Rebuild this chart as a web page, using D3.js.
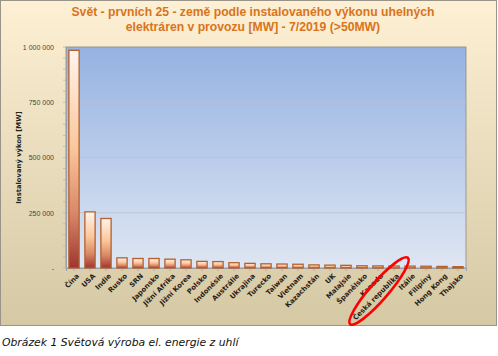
<!DOCTYPE html>
<html><head><meta charset="utf-8">
<script src="https://cdn.jsdelivr.net/npm/d3@7"></script>
<style>
html,body{margin:0;padding:0;background:#fff;}
svg{display:block;}
</style></head>
<body>
<script>
const categories = ["Čína","USA","Indie","Rusko","SRN","Japonsko","Jižní Afrika","Jižní Korea","Polsko","Indonésie","Austrálie","Ukrajina","Turecko","Taiwan","Vietnam","Kazachstán","UK","Malajsie","Španělsko","Kanada","Česká republika","Itálie","Filipíny","Hong Kong","Thajsko"];
const values = [985000,254000,224000,46000,43000,43000,40000,37000,30000,29000,24000,21000,19000,18000,17000,14000,13000,12000,10000,9500,9000,8500,8000,7000,6000];
const yTicks = [0,250000,500000,750000,1000000];
const yTickLabels = ["-","250 000","500 000","750 000","1 000 000"];
const titleLines = ["Svět - prvních 25 - země podle instalovaného výkonu uhelných","elektráren v provozu [MW] - 7/2019 (>50MW)"];
const yLabel = "Instalovaný výkon [MW]";
const caption = "Obrázek 1 Světová výroba el. energie z uhlí";
const highlighted = "Česká republika";

const W=498,H=356;
const svg=d3.select("body").append("svg").attr("width",W).attr("height",H);
const defs=svg.append("defs");
const bg=defs.append("linearGradient").attr("id","bg").attr("x1",0).attr("y1",0).attr("x2",0).attr("y2",1);
bg.append("stop").attr("offset","0%").attr("stop-color","#fdf0d4");
bg.append("stop").attr("offset","100%").attr("stop-color","#d5c8a4");
const pg=defs.append("linearGradient").attr("id","pg").attr("x1",0).attr("y1",0).attr("x2",0).attr("y2",1);
pg.append("stop").attr("offset","0%").attr("stop-color","#95b2e2");
pg.append("stop").attr("offset","100%").attr("stop-color","#dfe6f3");
const bgr=defs.append("linearGradient").attr("id","bar").attr("x1",0).attr("y1",0).attr("x2",0).attr("y2",1);
bgr.append("stop").attr("offset","0%").attr("stop-color","#fff4ec");
bgr.append("stop").attr("offset","45%").attr("stop-color","#fbc69c");
bgr.append("stop").attr("offset","75%").attr("stop-color","#d88767");
bgr.append("stop").attr("offset","100%").attr("stop-color","#9e3530");

// outer box
svg.append("rect").attr("x",0.5).attr("y",0.5).attr("width",496).attr("height",325)
  .attr("fill","url(#bg)").attr("stroke","#9a9488").attr("stroke-width",1);

const m={l:66,r:466,t:47,b:268};
const x=d3.scaleBand().domain(categories).range([m.l,m.r]).paddingInner(0.36).paddingOuter(0.18);
const y=d3.scaleLinear().domain([0,1000000]).range([m.b,m.t]);

svg.append("rect").attr("x",m.l).attr("y",m.t).attr("width",m.r-m.l).attr("height",m.b-m.t)
  .attr("fill","url(#pg)").attr("stroke","#8a8a8a").attr("stroke-width",0.8);

// gridlines
svg.append("g").selectAll("line").data(yTicks.slice(1,4)).join("line")
  .attr("x1",m.l).attr("x2",m.r).attr("y1",d=>y(d)).attr("y2",d=>y(d))
  .attr("stroke","#b9c2cf").attr("stroke-width",0.8);

// y axis
const ya=svg.append("g").attr("transform",`translate(${m.l},0)`)
  .call(d3.axisLeft(y).tickValues(yTicks).tickFormat((d,i)=>yTickLabels[i]).tickSize(0).tickPadding(12));
ya.select(".domain").attr("stroke","#9aa0aa");
ya.selectAll("text").attr("font-family","Liberation Sans, Arial").attr("font-size","7px").attr("fill","#444");
// minor ticks
svg.append("g").selectAll("line").data(d3.range(0,1000001,50000)).join("line")
  .attr("x1",m.l-3).attr("x2",m.l).attr("y1",d=>y(d)).attr("y2",d=>y(d)).attr("stroke","#aab0b8").attr("stroke-width",0.7);

// x axis
const xa=svg.append("g").attr("transform",`translate(0,${m.b})`)
  .call(d3.axisBottom(x).tickSize(3).tickPadding(3));
xa.select(".domain").attr("stroke","#9aa0aa");
xa.selectAll(".tick line").attr("stroke","#aab0b8");
xa.selectAll("text").attr("font-family","DejaVu Sans, Verdana").attr("font-weight","bold")
  .attr("font-size","6.9px").attr("fill","#222").attr("text-anchor","end")
  .attr("dx","0").attr("dy","4").attr("transform","rotate(-45) translate(-2,0)");

// bars
svg.append("g").selectAll("rect").data(categories).join("rect")
  .attr("x",d=>x(d)).attr("width",x.bandwidth())
  .attr("y",(d,i)=>y(values[i])).attr("height",(d,i)=>y(0)-y(values[i]))
  .attr("fill","url(#bar)").attr("stroke","#b3612c").attr("stroke-width",1.3);

// title
svg.append("g").selectAll("text").data(titleLines).join("text")
  .attr("x",253).attr("y",(d,i)=>16+i*15).attr("text-anchor","middle")
  .attr("font-family","Liberation Sans, Arial").attr("font-weight","bold").attr("font-size","12.2px")
  .attr("fill","#d9741c").text(d=>d);

// y label
svg.append("text").attr("transform",`translate(21,${(m.t+m.b)/2}) rotate(-90)`).attr("text-anchor","middle")
  .attr("font-family","DejaVu Sans, Verdana").attr("font-weight","bold").attr("font-size","6.8px").attr("fill","#222").text(yLabel);

// highlight ellipse
const hx=x(highlighted)+x.bandwidth()/2;
svg.append("ellipse").attr("cx",0).attr("cy",0).attr("rx",44).attr("ry",9)
  .attr("transform",`translate(${hx-15},${m.b+23}) rotate(-49)`)
  .attr("fill","none").attr("stroke","#f00").attr("stroke-width",2.6);

// caption
svg.append("text").attr("x",2).attr("y",346).attr("font-family","DejaVu Sans, Verdana").attr("font-style","italic")
  .attr("font-size","10.8px").attr("fill","#111").text(caption);
</script>
</body></html>
